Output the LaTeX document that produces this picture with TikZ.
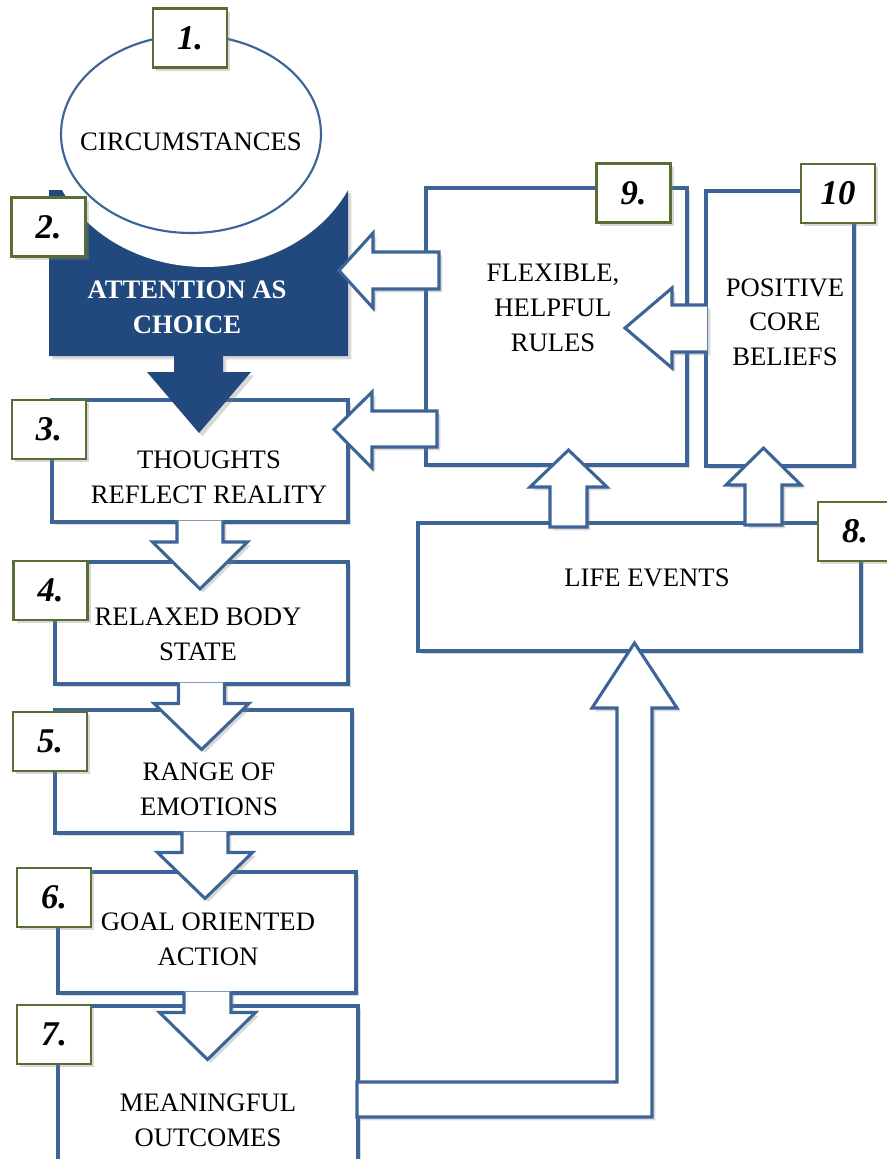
\documentclass[tikz,border=0pt]{standalone}
\usepackage{fontspec}
\setmainfont{Liberation Serif}
\usetikzlibrary{shapes.geometric,shadows,calc}

\definecolor{boxblue}{RGB}{60,100,150}
\definecolor{darkblue}{RGB}{33,73,125}
\definecolor{labgreen}{RGB}{88,110,50}
\newcommand{\pxu}{0.75pt}

\tikzset{
  softshadow/.style={drop shadow={opacity=0.3, shadow xshift=2.5pt, shadow yshift=-2.5pt}},
  box/.style={draw=boxblue, line width=2.3pt, fill=white, rectangle, outer sep=0pt, inner sep=0pt, anchor=north west, softshadow},
  numbox/.style={draw=labgreen, line width=2pt, fill=white, minimum width=74*\pxu, minimum height=59*\pxu, inner sep=0pt, font=\fontsize{26}{28}\selectfont\bfseries\itshape, softshadow},
  blockarrow/.style={draw=boxblue, line width=2.3pt, fill=white, softshadow},
  txt/.style={align=center, inner sep=0pt, font=\fontsize{20}{26}\selectfont}
}

\begin{document}
\begin{tikzpicture}[x=0.75pt, y=-0.75pt]
        \useasboundingbox (0,0) rectangle (886,1159);

        % boxes
        \node[box, minimum width=296*\pxu, minimum height=122*\pxu] (thoughts) at (52,400) {};
        \node[box, minimum width=293*\pxu, minimum height=122*\pxu] (body) at (55,562) {};
        \node[box, minimum width=297*\pxu, minimum height=123*\pxu] (emotions) at (55,710) {};
        \node[box, minimum width=298*\pxu, minimum height=121*\pxu] (action) at (58,872) {};
        \node[box, minimum width=300*\pxu, minimum height=180*\pxu] (outcomes) at (58,1006) {};
        \node[box, minimum width=261*\pxu, minimum height=277*\pxu] (rules) at (426,188) {};
        \node[box, minimum width=148*\pxu, minimum height=275*\pxu] (beliefs) at (706,191) {};
        \node[box, minimum width=443*\pxu, minimum height=128*\pxu] (events) at (418,523) {};

        % attention block with its arrow
        \fill[darkblue, softshadow] (49,190) -- (348,190) -- (348,356) -- (223,356) -- (223,372) -- (251,372) -- (199,433)
            -- (147,372) -- (174,372) -- (174,356) -- (49,356) -- cycle;
        \fill[white] (205,130) ellipse [x radius=159, y radius=137];
        \node[draw=boxblue, line width=1.6pt, ellipse, minimum width=260*\pxu, minimum height=198*\pxu, inner sep=0pt] (circ) at (191,134) {};

        % block arrows
        \filldraw[blockarrow] ($(thoughts.south)+(-23,-1.5)$) -- ++(0,21.5) -- ++(-24.5,0) -- ++(47.5,47) -- ++(47.5,-47) -- ++(-24.5,0) -- ++(0,-21.5);
        \filldraw[blockarrow] ($(body.south)+(-23,-1.5)$) -- ++(0,21) -- ++(-24.5,0) -- ++(47.5,46) -- ++(47.5,-46) -- ++(-24.5,0) -- ++(0,-21);
        \filldraw[blockarrow] ($(emotions.south)+(-21.5,-1.5)$) -- ++(0,21) -- ++(-24.5,0) -- ++(47.5,46) -- ++(47.5,-46) -- ++(-24.5,0) -- ++(0,-21);
        \filldraw[blockarrow] ($(action.south)+(-23,-1.5)$) -- ++(0,21) -- ++(-24.5,0) -- ++(48,47) -- ++(48,-47) -- ++(-24.5,0) -- ++(0,-21);
        \filldraw[blockarrow] (439,252) -- (373,252) -- (373,233) -- (339,270.5) -- (373,308) -- (373,289) -- (439,289) -- cycle;
        \filldraw[blockarrow] (437,411) -- (372,411) -- (372,392) -- (334,429.5) -- (372,468) -- (372,447) -- (437,447) -- cycle;
        \filldraw[blockarrow] (707,305) -- (672,305) -- (672,288) -- (625,328) -- (672,368) -- (672,352) -- (707,352);
        \filldraw[blockarrow] (550,527) -- (550,487) -- (530,487) -- (568.5,450) -- (607,487) -- (587,487) -- (587,527) -- cycle;
        \filldraw[blockarrow] (745,525) -- (745,485) -- (726,485) -- (763.5,448) -- (801,485) -- (782,485) -- (782,525) -- cycle;
        \filldraw[blockarrow] (357,1082) -- (617,1082) -- (617,708) -- (592,708) -- (634.5,643) -- (677,708) -- (652,708)
            -- (652,1117) -- (357,1117) -- cycle;

        % number labels
        \node[numbox] (n1) at (190,38) {1.};
        \node[numbox] (n2) at (48.5,227) {2.};
        \node[numbox] (n3) at (49,429.5) {3.};
        \node[numbox] (n4) at (50.5,590.5) {4.};
        \node[numbox] (n5) at (50,741.5) {5.};
        \node[numbox] (n6) at (54,897.5) {6.};
        \node[numbox] (n7) at (54,1034.5) {7.};
        \node[numbox] (n8) at (855,531.5) {8.};
        \node[numbox] (n9) at (633.5,193) {9.};
        \node[numbox] (n10) at (838,193.5) {10};

        % texts
        \node[txt] (circ-txt) at (191,142) {CIRCUMSTANCES};
        \node[txt, text=white, font=\fontsize{20}{26}\selectfont\bfseries] (attention-txt) at (187,307.5) {ATTENTION AS\\CHOICE};
        \node[txt] (thoughts-txt) at (209,477.5) {THOUGHTS\\REFLECT REALITY};
        \node[txt] (body-txt) at (198,634) {RELAXED BODY\\STATE};
        \node[txt] (emotions-txt) at (209,789) {RANGE OF\\EMOTIONS};
        \node[txt] (action-txt) at (208,939.5) {GOAL ORIENTED\\ACTION};
        \node[txt] (outcomes-txt) at (208,1120) {MEANINGFUL\\OUTCOMES};
        \node[txt] (rules-txt) at (553,308) {FLEXIBLE,\\HELPFUL\\RULES};
        \node[txt] (beliefs-txt) at (785,322) {POSITIVE\\CORE\\BELIEFS};
        \node[txt] (events-txt) at (647,578) {LIFE EVENTS};
\end{tikzpicture}
\end{document}
